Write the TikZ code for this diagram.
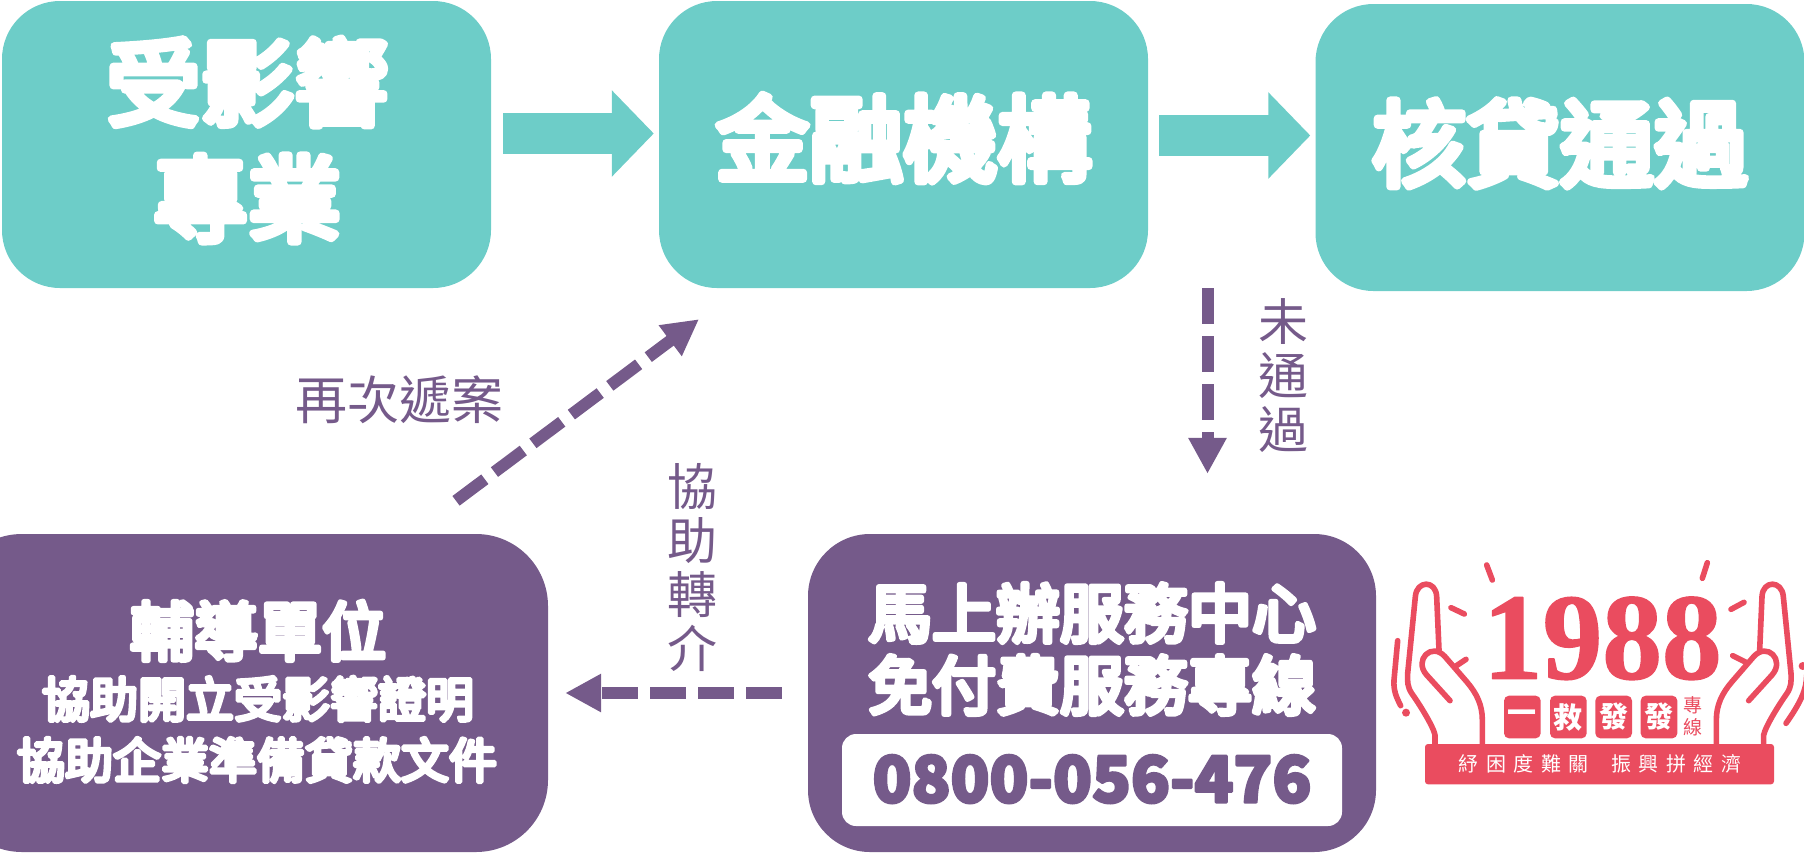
\documentclass[tikz,border=0pt]{standalone}
\usepackage{fontspec}
\usetikzlibrary{arrows.meta,calc}
\newfontfamily\cjkb[BoldFont={Noto Sans CJK TC},BoldFeatures={FakeBold=8}]{Noto Sans CJK TC}
\newfontfamily\cjkd[BoldFeatures={FakeBold=4}]{Noto Sans CJK TC}
\newfontfamily\cjkr{Noto Sans CJK TC}
\newfontfamily\serifb[BoldFeatures={FakeBold=1.2}]{Liberation Serif}
\definecolor{teal1}{HTML}{6DCDC8}
\definecolor{purp}{HTML}{755A8A}
\definecolor{red1}{HTML}{EA4C5F}
% text placed inside a node: dx, dy of the glyph centre from the node centre, size, text
\newcommand\tx[4]{\kern#1pt\makebox[0pt]{\smash{\raisebox{\dimexpr-#2pt-0.38\dimexpr#3pt\relax\relax}{\fontsize{#3pt}{#3pt}\selectfont\bfseries #4}}}\kern-#1pt}
\tikzset{
  box/.style={rounded corners=58pt,inner sep=0pt,text=white,font=\cjkb,anchor=center},
  tealbox/.style={box,fill=teal1},
  purpbox/.style={box,fill=purp},
  solidflow/.style={draw=teal1,line width=41pt,-{Triangle[length=42pt,width=84pt]}},
  dashflow/.style={draw=purp,line width=12pt,dash pattern=on 36pt off 12pt,-{Triangle[length=36pt,width=36pt]}},
  vlabel/.style={text=purp,font=\cjkr\fontsize{50pt}{54pt}\selectfont,align=center,inner sep=0pt},
  ray/.style={draw=red1,line width=5.6pt,line cap=round,line join=round},
  tile/.style={fill=red1,rounded corners=5pt},
  lg/.style={text=white,inner sep=0pt},
}
\begin{document}
\begin{tikzpicture}[x=1pt,y=-1pt,line join=round,line cap=round]
\useasboundingbox (0,0) rectangle (1804,852);
\node[tealbox,minimum width=489pt,minimum height=287pt] (b1) at (246.5,144.5) {\tx{1}{-62}{94}{受影響}\tx{1}{54}{94}{專業}};
\node[tealbox,minimum width=489pt,minimum height=287pt] (b2) at (903.5,144.5) {\tx{0}{-6}{94}{金融機構}};
\node[tealbox,minimum width=489pt,minimum height=287pt] (b3) at (1560,147.5) {\tx{0}{-4}{94}{核貸通過}};
\node[purpbox,minimum width=598pt,minimum height=318pt,rounded corners=72pt] (b4) at (249,693) {\tx{9}{-62}{64}{輔導單位}\tx{9}{6}{48}{協助開立受影響證明}\tx{8}{67}{48}{協助企業準備貸款文件}};
\node[purpbox,minimum width=568pt,minimum height=318pt,rounded corners=62pt] (b5) at (1092,693) {\tx{0}{-80}{64}{馬上辦服務中心}\tx{0}{-8}{64}{免付費服務專線}};
\node[fill=white,rounded corners=14pt,minimum width=500pt,minimum height=92pt,inner sep=0pt,text=purp,font=\cjkd] (ph) at (1092,780) {\tx{0}{-2}{64}{0800-056-476}};

\draw[solidflow,line cap=butt] ($(b1.east)+(12,-11)$) -- ($(b2.west)+(-5,-11)$);
\draw[solidflow,line cap=butt] ($(b2.east)+(11,-9)$) -- ($(b3.west)+(-5,-12)$);
\coordinate (dstart) at (1207.5,288);
\draw[dashflow,line cap=butt] (dstart) -- ($(b5.north)+(115.5,-60)$);
\draw[dashflow,line cap=butt] ($(b5.west)+(-26,0)$) -- ($(b4.east)+(17,0)$);
\draw[dashflow,line cap=butt] ($(b4.north)+(207,-33)$) -- ($(b2.south)+(-204.5,31)$);

\node[text=purp,font=\cjkr\fontsize{52pt}{54pt}\selectfont,inner sep=0pt] (l1) at (399,400) {再次遞案};
\node[vlabel] (l2) at (1283,376) {未\\通\\過};
\node[vlabel] (l3) at (692,568) {協\\助\\轉\\介};

% 1988 logo
\begin{scope}[shift={(1370,540)},x=0.33333pt,y=-0.33333pt]
\newcommand\handshape{%
  \draw[ray] (195,612) -- (195,585) .. controls (190,560) and (150,495) .. (125,460) .. controls (112,440) and (112,425) .. (113,400) -- (136,170) .. controls (140,120) and (198,120) .. (200,170) -- (207,330);
  \draw[ray] (240,482) -- (170,405) .. controls (130,360) and (185,305) .. (225,350) -- (290,425) .. controls (320,460) and (337,495) .. (337,540) -- (337,612);
}
\handshape
\begin{scope}[shift={(1376,0)},xscale=-1]
\handshape
\end{scope}
\draw[ray] (83,302) -- (72,420) .. controls (70,450) and (78,470) .. (92,497);
\fill[red1] (108,518) circle[radius=12];
\fill[red1] (1298,378) circle[radius=12];
\draw[ray] (1248,550) .. controls (1290,490) and (1310,450) .. (1310,405);
\draw[ray] (350,75) -- (367,120);
\draw[ray] (1012,68) -- (997,115);
\draw[ray] (243,203) -- (283,222);
\draw[ray] (1122,187) -- (1083,208);
\draw[ray] (255,380) -- (288,358);
\draw[ray] (1088,347) -- (1130,368);
\node[text=red1,inner sep=0pt,xscale=0.97,font=\serifb\bfseries\fontsize{123pt}{123pt}\selectfont] (n1988) at (697,295) {1988};
\fill[tile] (402,467) rectangle (512,595);
\fill[tile] (540,467) rectangle (650,595);
\fill[tile] (676,467) rectangle (786,595);
\fill[tile] (812,467) rectangle (922,595);
\node[lg,font=\cjkr\bfseries\fontsize{29pt}{29pt}\selectfont] (t1) at (457,531) {一};
\node[lg,font=\cjkr\bfseries\fontsize{29pt}{29pt}\selectfont] (t2) at (595,531) {救};
\node[lg,font=\cjkr\bfseries\fontsize{29pt}{29pt}\selectfont] (t3) at (731,531) {發};
\node[lg,font=\cjkr\bfseries\fontsize{29pt}{29pt}\selectfont] (t4) at (867,531) {發};
\node[text=red1,inner sep=0pt,font=\cjkr\fontsize{19pt}{19pt}\selectfont] (z1) at (970,497) {專};
\node[text=red1,inner sep=0pt,font=\cjkr\fontsize{19pt}{19pt}\selectfont] (z2) at (970,561) {線};
\fill[red1,rounded corners=3pt] (165,612) rectangle (1212,733);
\foreach \c/\t [count=\i] in {295/紓,378/困,460/度,545/難,625/關,755/振,835/興,920/拼,1000/經,1085/濟}{
  \node[text=white,inner sep=0pt,font=\cjkr\fontsize{20pt}{20pt}\selectfont] (s\i) at (\c,672) {\t};
}
\end{scope}
\end{tikzpicture}
\end{document}
